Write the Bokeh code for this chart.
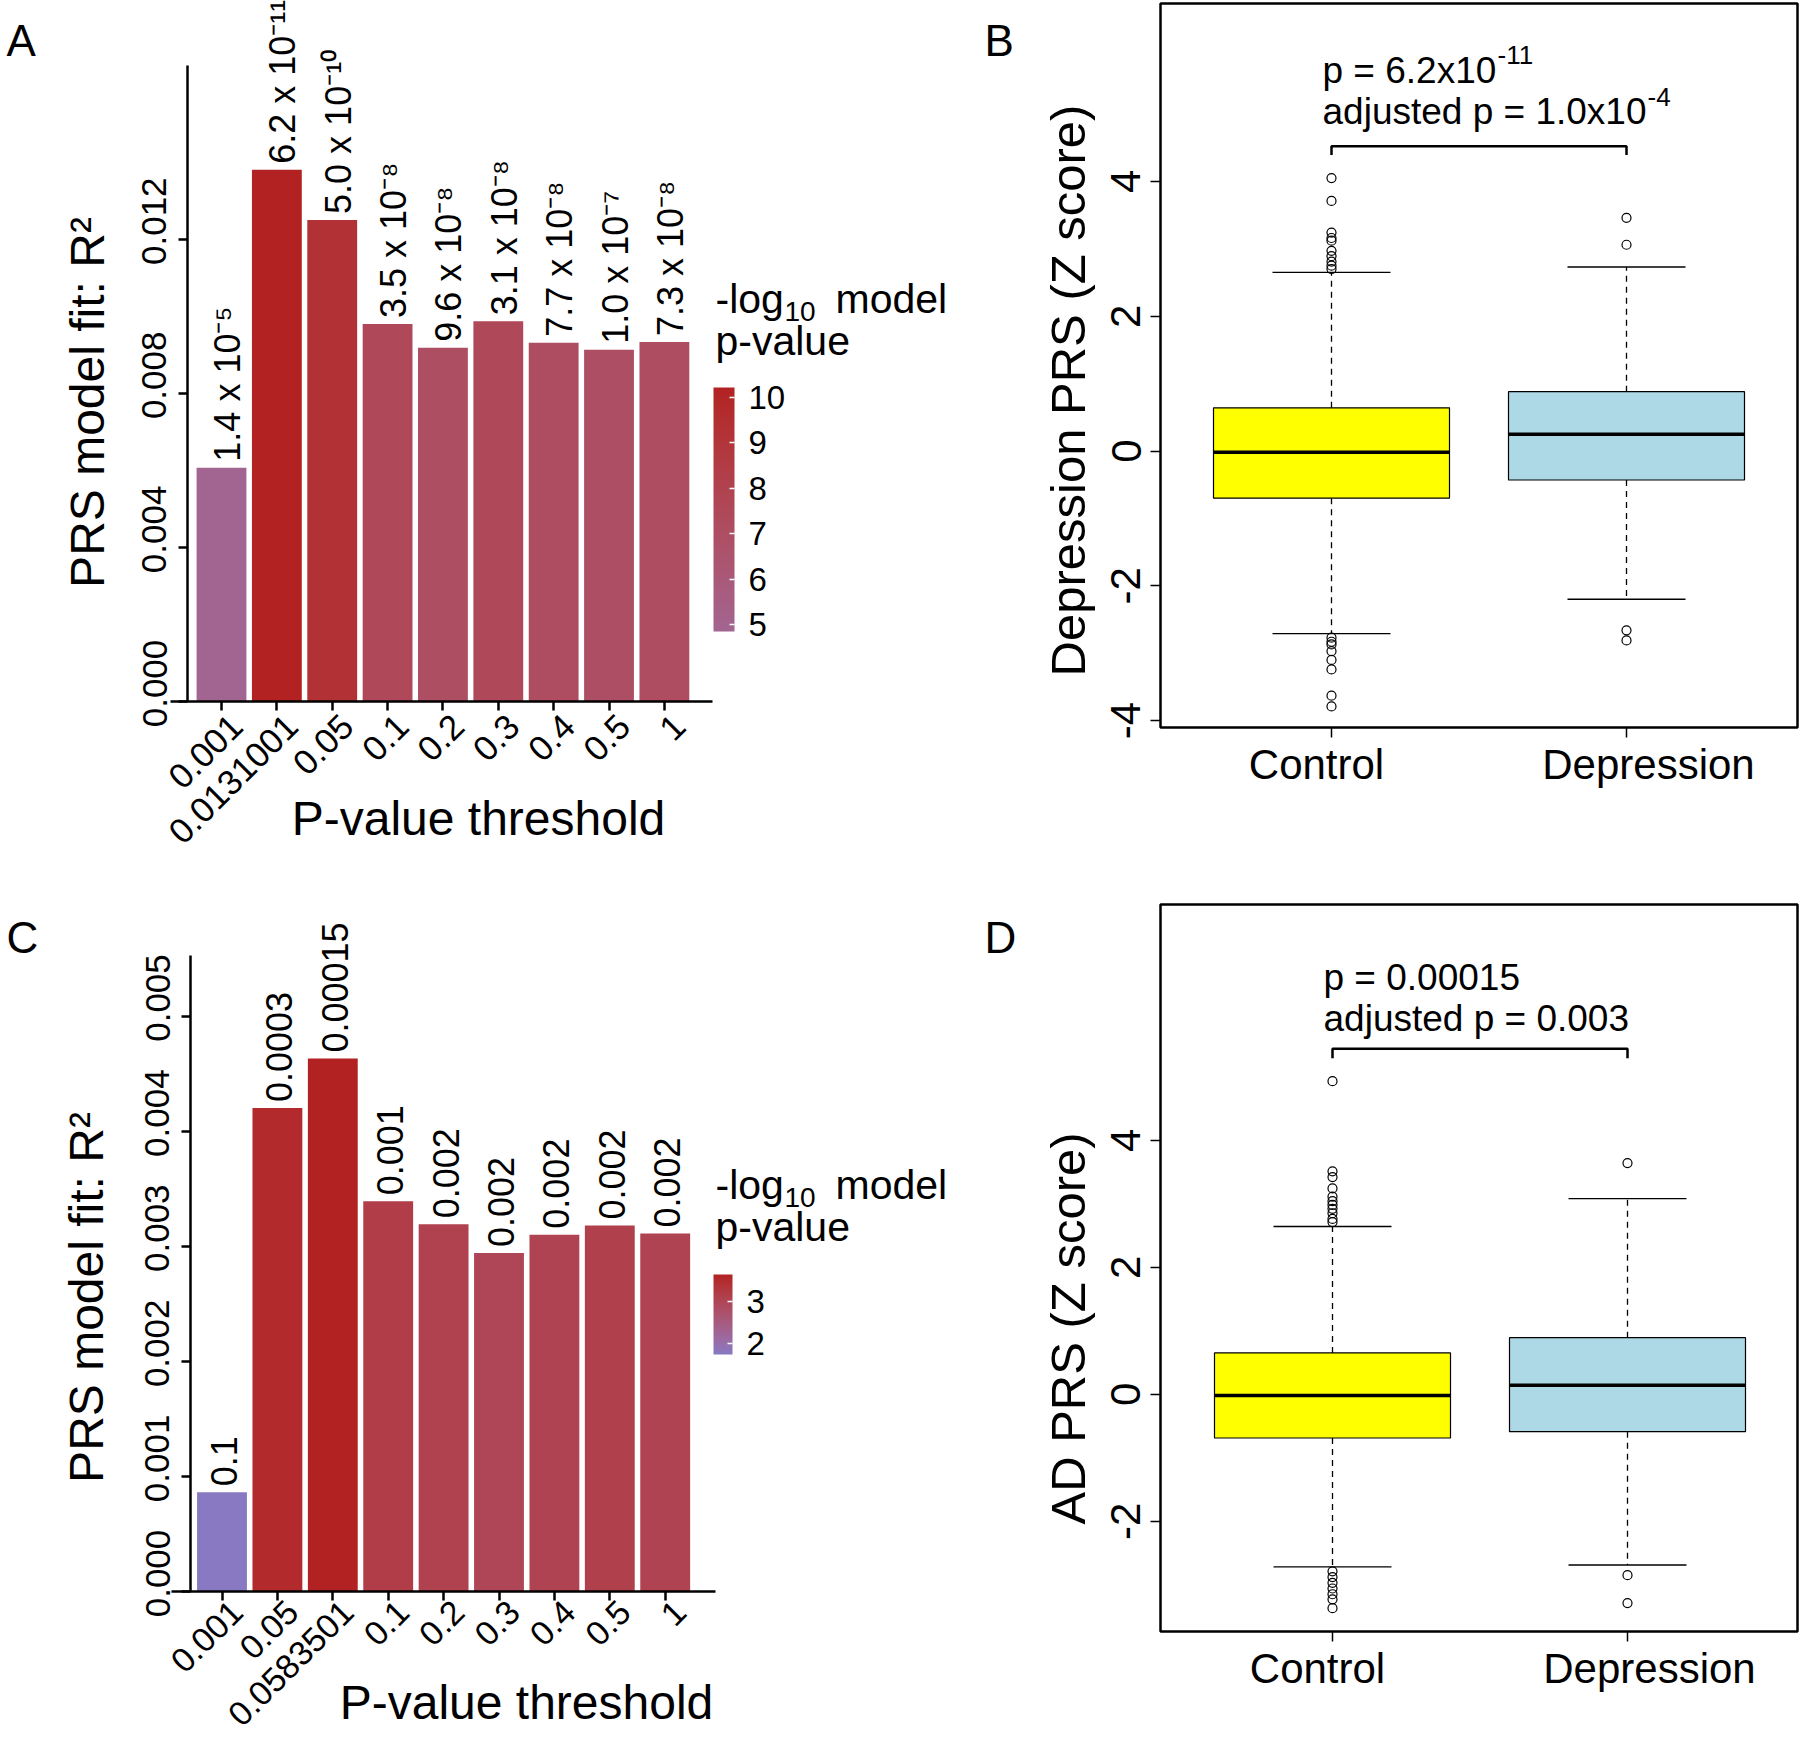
import math
from bokeh.plotting import figure
from bokeh.models import (ColumnDataSource, FixedTicker, LinearColorMapper, ColorBar,
                          Label, Range1d, BoxAnnotation, LinearAxis)
from bokeh.layouts import row, column
from bokeh.embed import file_html
from bokeh.resources import INLINE
from bokeh.core.properties import value

FONT = "Liberation Sans"

# ---------------- data: panel A ----------------
a_thresholds = ["0.001", "0.0131001", "0.05", "0.1", "0.2", "0.3", "0.4", "0.5", "1"]
a_r2 = [0.00607, 0.01380, 0.01250, 0.00980, 0.00918, 0.00987, 0.00931, 0.00913, 0.00933]
a_neglogp = [4.85, 10.21, 9.30, 7.46, 7.02, 7.51, 7.11, 7.00, 7.14]
a_bar_labels = ["1.4 x 10\u207b\u2075", "6.2 x 10\u207b\u00b9\u00b9", "5.0 x 10\u207b\u00b9\u2070",
                "3.5 x 10\u207b\u2078", "9.6 x 10\u207b\u2078", "3.1 x 10\u207b\u2078",
                "7.7 x 10\u207b\u2078", "1.0 x 10\u207b\u2077", "7.3 x 10\u207b\u2078"]
a_y_ticks = [0.0, 0.004, 0.008, 0.012]
a_cbar_ticks = [5, 6, 7, 8, 9, 10]

# ---------------- data: panel C ----------------
c_thresholds = ["0.001", "0.05", "0.0583501", "0.1", "0.2", "0.3", "0.4", "0.5", "1"]
c_r2 = [0.000863, 0.00420, 0.00463, 0.00339, 0.00319, 0.00294, 0.00310, 0.00318, 0.00311]
c_neglogp = [1.74, 3.52, 3.64, 3.17, 3.09, 2.98, 3.05, 3.12, 3.05]
c_bar_labels = ["0.1", "0.0003", "0.00015", "0.001", "0.002", "0.002", "0.002", "0.002", "0.002"]
c_y_ticks = [0.0, 0.001, 0.002, 0.003, 0.004, 0.005]
c_cbar_ticks = [2, 3]

# ---------------- data: panels B and D (box plots) ----------------
groups = ["Control", "Depression"]
box_colors = ["#FFFF00", "#ADD8E6"]

b_q1 = [-0.70, -0.43]
b_med = [-0.02, 0.25]
b_q3 = [0.64, 0.88]
b_lo = [-2.71, -2.20]
b_hi = [2.65, 2.73]
b_out_control = [4.05, 3.71, 3.24, 3.16, 3.12, 2.97, 2.89, 2.81, 2.75, 2.70,
                 -2.77, -2.83, -2.87, -2.97, -3.10, -3.24, -3.63, -3.79]
b_out_depression = [3.46, 3.06, -2.66, -2.81]
b_y_ticks = [-4, -2, 0, 2, 4]
b_bracket = [4.52, 4.39]
b_text = [("p = 6.2x10", "-11"), ("adjusted p = 1.0x10", "-4")]

d_q1 = [-0.69, -0.59]
d_med = [-0.02, 0.14]
d_q3 = [0.65, 0.89]
d_lo = [-2.72, -2.69]
d_hi = [2.64, 3.08]
d_out_control = [4.93, 3.51, 3.42, 3.24, 3.11, 3.04, 2.98, 2.92, 2.85, 2.76, 2.71,
                 -2.79, -2.88, -2.97, -3.06, -3.15, -3.23, -3.37]
d_out_depression = [3.64, -2.85, -3.29]
d_y_ticks = [-2, 0, 2, 4]
d_bracket = [5.44, 5.29]
d_text = [("p = 0.00015", ""), ("adjusted p = 0.003", "")]


# ---------------- colour helpers (Lab interpolation, like ggplot gradients) ----------------
def _to_lin(c):
    c = c / 255.0
    return c / 12.92 if c <= 0.04045 else ((c + 0.055) / 1.055) ** 2.4


def _from_lin(c):
    c = max(0.0, min(1.0, c))
    c = 12.92 * c if c <= 0.0031308 else 1.055 * c ** (1 / 2.4) - 0.055
    return int(round(max(0.0, min(1.0, c)) * 255))


def hex_to_lab(h):
    r, g, b = (_to_lin(int(h[i:i + 2], 16)) for i in (1, 3, 5))
    x = (0.4124 * r + 0.3576 * g + 0.1805 * b) / 0.95047
    y = 0.2126 * r + 0.7152 * g + 0.0722 * b
    z = (0.0193 * r + 0.1192 * g + 0.9505 * b) / 1.08883
    f = lambda t: t ** (1 / 3) if t > 0.008856 else 7.787 * t + 16 / 116
    fx, fy, fz = f(x), f(y), f(z)
    return 116 * fy - 16, 500 * (fx - fy), 200 * (fy - fz)


def lab_to_hex(L, a, b):
    fy = (L + 16) / 116
    fx = fy + a / 500
    fz = fy - b / 200
    finv = lambda t: t ** 3 if t ** 3 > 0.008856 else (t - 16 / 116) / 7.787
    x = finv(fx) * 0.95047
    y = finv(fy)
    z = finv(fz) * 1.08883
    r = 3.2406 * x - 1.5372 * y - 0.4986 * z
    g = -0.9689 * x + 1.8758 * y + 0.0415 * z
    bb = 0.0557 * x - 0.2040 * y + 1.0570 * z
    return "#%02x%02x%02x" % (_from_lin(r), _from_lin(g), _from_lin(bb))


def lab_palette(c0, c1, n=256):
    l0, l1 = hex_to_lab(c0), hex_to_lab(c1)
    return [lab_to_hex(*[l0[k] + (l1[k] - l0[k]) * i / (n - 1) for k in range(3)]) for i in range(n)]


# ---------------- layout helper: page pixel <-> data mapping ----------------
class Panel:
    """A canvas at page rect (cl, ct, w, h); the data frame covers the whole canvas."""

    def __init__(self, cl, ct, w, h, px_ref, x_ref, px_per_x, py_ref, y_ref, py_per_y):
        self.cl, self.ct, self.w, self.h = cl, ct, w, h
        self.px_ref, self.x_ref, self.px_per_x = px_ref, x_ref, px_per_x
        self.py_ref, self.y_ref, self.py_per_y = py_ref, y_ref, py_per_y

    def x(self, px):
        return self.x_ref + (px - self.px_ref) / self.px_per_x

    def y(self, py):
        return self.y_ref + (self.py_ref - py) / self.py_per_y

    def dx(self, dpx):
        return dpx / self.px_per_x

    def dy(self, dpx):
        return dpx / self.py_per_y

    def figure(self):
        p = figure(width=self.w, height=self.h,
                   x_range=Range1d(self.x(self.cl), self.x(self.cl + self.w)),
                   y_range=Range1d(self.y(self.ct + self.h), self.y(self.ct)),
                   output_backend="svg", toolbar_location=None, min_border=0)
        p.xgrid.visible = False
        p.ygrid.visible = False
        p.outline_line_color = None
        p.background_fill_color = "white"
        p.border_fill_color = "white"
        return p

    def label(self, p, px, py, text, size, angle=0.0, align="left", baseline="middle"):
        p.add_layout(Label(x=self.x(px), y=self.y(py), text=text, angle=angle,
                           text_font=FONT, text_font_size=f"{size}px", text_color="black",
                           text_align=align, text_baseline=baseline))


def style_axis(ax, font_size, tick_w, tick_len, line_w, show_line=True, show_ticks=True):
    ax.major_label_text_font = FONT
    ax.major_label_text_font_size = font_size
    ax.major_label_text_color = "black"
    ax.axis_line_color = "black" if show_line else None
    ax.axis_line_width = line_w
    ax.major_tick_line_color = "black" if show_ticks else None
    ax.major_tick_line_width = tick_w
    ax.major_tick_out = tick_len
    ax.major_tick_in = 0
    ax.minor_tick_line_color = None


def bar_panel(m, axis_px, thresholds, r2, nlp, labels, yticks, cticks, low_col,
              cbar_box, legend_center, ytitle_pos, xtitle_pos, letter, letter_pos, lab_dx,
              xtick_font="35px", xtick_standoff=10):
    yaxis_x, xline_left, xline_right, yaxis_top = axis_px
    p = m.figure()
    mapper = LinearColorMapper(palette=lab_palette(low_col, "#B22222"), low=min(nlp), high=max(nlp))
    xs = list(range(1, len(thresholds) + 1))
    src = ColumnDataSource(dict(x=xs, r2=r2, nlp=nlp, lab=labels))
    p.vbar(x="x", top="r2", bottom=0, width=0.9, source=src,
           fill_color={"field": "nlp", "transform": mapper}, line_color=None)
    p.text(x="x", y="r2", text="lab", source=src, angle=math.pi / 2,
           x_offset=lab_dx, y_offset=-6, text_align="left", text_baseline="middle",
           text_font=value(FONT), text_font_size="36px", text_color="black")

    # axis lines + tick marks
    xa = p.xaxis[0]
    xa.fixed_location = 0
    xa.bounds = (m.x(xline_left), m.x(xline_right))
    xa.ticker = FixedTicker(ticks=xs)
    xa.major_label_overrides = {i: "" for i in xs}
    style_axis(xa, xtick_font, 2.5, 9, 2.5)
    ya = p.yaxis[0]
    ya.fixed_location = m.x(yaxis_x)
    ya.bounds = (0, m.y(yaxis_top))
    ya.ticker = FixedTicker(ticks=yticks)
    ya.major_label_overrides = {t: "" for t in yticks}
    style_axis(ya, "35px", 2.5, 9, 2.5)

    # tick labels (placed like ggplot: slanted labels hang right of the tick, y labels sit slightly high)
    sx = m.dx(15)
    xl_ticks = [i + sx for i in xs]
    xl = LinearAxis(fixed_location=0, ticker=FixedTicker(ticks=xl_ticks),
                    major_label_overrides={t: s for t, s in zip(xl_ticks, thresholds)},
                    major_label_orientation=math.pi / 4, major_label_standoff=xtick_standoff)
    style_axis(xl, xtick_font, 2.5, 9, 2.5, show_line=False, show_ticks=False)
    p.add_layout(xl, "below")
    sy = m.dy(18)
    yl_ticks = [t + sy for t in yticks]
    yl = LinearAxis(fixed_location=m.x(yaxis_x), ticker=FixedTicker(ticks=yl_ticks),
                    major_label_overrides={tl: f"{t:.3f}" for tl, t in zip(yl_ticks, yticks)},
                    major_label_orientation="vertical", major_label_standoff=12)
    style_axis(yl, "35px", 2.5, 9, 2.5, show_line=False, show_ticks=False)
    p.add_layout(yl, "left")

    bl, bt, br, bb = cbar_box
    cb = ColorBar(color_mapper=mapper, orientation="vertical",
                  location=(bl - m.cl, m.ct + m.h - bb),
                  width=br - bl, height=bb - bt, padding=0, margin=0,
                  ticker=FixedTicker(ticks=cticks), major_label_text_font=FONT,
                  major_label_text_font_size="33px", major_label_text_color="black",
                  major_tick_line_color="white", major_tick_line_width=1.5,
                  major_tick_in=5, major_tick_out=0, label_standoff=14,
                  bar_line_color=None, border_line_color=None, background_fill_alpha=0)
    p.add_layout(cb, "center")
    lx, ly = legend_center
    m.label(p, lx, ly, "-log", 41)
    m.label(p, lx + 69, ly + 13, "10", 28)
    m.label(p, lx + 120, ly, "model", 41)
    m.label(p, lx, ly + 42, "p-value", 41)
    m.label(p, ytitle_pos[0], ytitle_pos[1], "PRS model fit: R\u00b2", 48,
            angle=math.pi / 2, align="center")
    m.label(p, xtitle_pos[0], xtitle_pos[1], "P-value threshold", 48, align="center")
    m.label(p, letter_pos[0], letter_pos[1], letter, 44)
    return p


def box_panel(m, region_px, q1, med, q3, lo, hi, out_c, out_d, yticks, bracket, texts,
              text_pos, ytitle, ytitle_pos, letter, letter_pos):
    rl, rt, rr, rb = region_px
    p = m.figure()
    xs = [1, 2]
    src = ColumnDataSource(dict(x=xs, xl=[x - 0.4 for x in xs], xr=[x + 0.4 for x in xs],
                                sl=[x - 0.2 for x in xs], sr=[x + 0.2 for x in xs],
                                q1=q1, med=med, q3=q3, lo=lo, hi=hi, color=box_colors))
    p.segment(x0="x", y0="q3", x1="x", y1="hi", source=src, line_color="black",
              line_width=1.3, line_dash="6 5")
    p.segment(x0="x", y0="q1", x1="x", y1="lo", source=src, line_color="black",
              line_width=1.3, line_dash="6 5")
    p.segment(x0="sl", y0="hi", x1="sr", y1="hi", source=src, line_color="black", line_width=1.4)
    p.segment(x0="sl", y0="lo", x1="sr", y1="lo", source=src, line_color="black", line_width=1.4)
    p.quad(left="xl", right="xr", bottom="q1", top="q3", source=src, fill_color="color",
           line_color="black", line_width=1.2)
    p.segment(x0="xl", y0="med", x1="xr", y1="med", source=src, line_color="black", line_width=3.5)
    ox = [1] * len(out_c) + [2] * len(out_d)
    oy = list(out_c) + list(out_d)
    p.scatter(x=ox, y=oy, marker="circle", size=9, fill_color=None, line_color="black",
              line_width=1.2)
    p.line(x=[1, 1, 2, 2], y=[bracket[1], bracket[0], bracket[0], bracket[1]],
           line_color="black", line_width=2.5)
    p.add_layout(BoxAnnotation(left=m.x(rl), right=m.x(rr), bottom=m.y(rb), top=m.y(rt),
                               fill_color=None, fill_alpha=0, line_color="black",
                               line_alpha=1.0, line_width=2.5))
    # tick marks
    xa = p.xaxis[0]
    xa.fixed_location = m.y(rb)
    xa.bounds = (1, 2)
    xa.ticker = FixedTicker(ticks=xs)
    xa.major_label_overrides = {1: "", 2: ""}
    style_axis(xa, "42px", 1.5, 10, 1.5, show_line=False)
    ya = p.yaxis[0]
    ya.fixed_location = m.x(rl)
    ya.bounds = (min(yticks), max(yticks))
    ya.ticker = FixedTicker(ticks=yticks)
    ya.major_label_overrides = {t: str(t) for t in yticks}
    ya.major_label_orientation = "vertical"
    ya.major_label_standoff = 10
    style_axis(ya, "42px", 1.5, 10, 1.5, show_line=False)
    # group labels (as in the original, slightly spread apart from the ticks)
    gl_ticks = [1 - m.dx(15), 2 + m.dx(22)]
    gl = LinearAxis(fixed_location=m.y(rb), ticker=FixedTicker(ticks=gl_ticks),
                    major_label_overrides={t: g for t, g in zip(gl_ticks, groups)},
                    major_label_standoff=3)
    style_axis(gl, "42px", 1.5, 10, 1.5, show_line=False, show_ticks=False)
    p.add_layout(gl, "below")

    tx, ty = text_pos
    for k, (main, sup) in enumerate(texts):
        yy = ty + 41.5 * k
        m.label(p, tx, yy, main, 37)
        if sup:
            w = {"p = 6.2x10": 174, "adjusted p = 1.0x10": 324}[main]
            m.label(p, tx + w + 1, yy - 15, sup, 26)
    m.label(p, ytitle_pos[0], ytitle_pos[1], ytitle, 49, angle=math.pi / 2, align="center")
    m.label(p, letter_pos[0], letter_pos[1], letter, 44)
    return p


# ---------------- panels (page pixel layout) ----------------
mA = Panel(0, 0, 960, 868, 221.0, 1.0, 55.36, 701.0, 0.0, 154.1 / 0.004)
pA = bar_panel(mA, (187, 170, 712, 65), a_thresholds, a_r2, a_neglogp, a_bar_labels, a_y_ticks,
               a_cbar_ticks, "#A26591", (713, 387, 734, 631), (715, 298), (87, 402), (478, 818),
               "A", (6, 40), 6)

mC = Panel(0, 868, 960, 870, 221.5, 1.0, 55.4, 1591.0, 0.0, 115.1 / 0.001)
pC = bar_panel(mC, (190, 171, 715, 955), c_thresholds, c_r2, c_neglogp, c_bar_labels, c_y_ticks,
               c_cbar_ticks, "#8879C2", (713, 1274, 732, 1354), (715, 1184), (86, 1297), (526, 1702),
               "C", (6, 937), 2, xtick_font="34px", xtick_standoff=6)

mB = Panel(960, 0, 840, 868, 1331.0, 1.0, 295.0, 450.5, 0.0, 67.4)
pB = box_panel(mB, (1160, 3, 1797, 727), b_q1, b_med, b_q3, b_lo, b_hi, b_out_control,
               b_out_depression, b_y_ticks, b_bracket, b_text, (1322, 69.5),
               "Depression PRS (Z score)", (1067, 390), "B", (984, 40))

mD = Panel(960, 868, 840, 870, 1332.0, 1.0, 295.0, 1393.7, 0.0, 63.5)
pD = box_panel(mD, (1160, 904, 1797, 1631), d_q1, d_med, d_q3, d_lo, d_hi, d_out_control,
               d_out_depression, d_y_ticks, d_bracket, d_text, (1323, 976.5),
               "AD PRS (Z score)", (1067, 1328), "D", (984, 937))

layout = column(row(pA, pB, spacing=0), row(pC, pD, spacing=0), spacing=0)

with open("out.html", "w") as f:
    f.write(file_html(layout, INLINE))
